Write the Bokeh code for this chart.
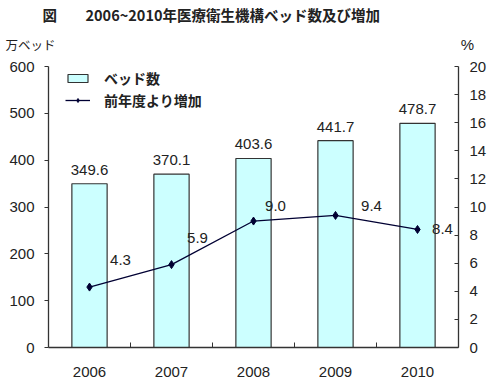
from bokeh.plotting import figure
from bokeh.layouts import column, row
from bokeh.models import Range1d, LinearAxis, FixedTicker, Legend, LegendItem, ColumnDataSource
from bokeh.embed import file_html
from bokeh.resources import INLINE
from bokeh.core.properties import value

# ---- data ----
years = ["2006", "2007", "2008", "2009", "2010"]
beds = [349.6, 370.1, 403.6, 441.7, 478.7]          # 万ベッド
growth = [4.3, 5.9, 9.0, 9.4, 8.4]                  # %
left_ticks = [0, 100, 200, 300, 400, 500, 600]
right_ticks = [0, 2, 4, 6, 8, 10, 12, 14, 16, 18, 20]
title_mark = "図"
title_text = "2006~2010年医療衛生機構ベッド数及び増加"
left_unit = "万ベッド"
right_unit = "%"

# ---- label placement (style) ----
growth_dx = [31, 26, 22, 36, 25]
growth_dy = [-27, -27, -15, -9, 0]

xi = list(range(len(years)))
src = ColumnDataSource(dict(
    x=xi, beds=beds, growth=growth,
    bl=[f"{v:.1f}" for v in beds],
    gl=[f"{v:.1f}" for v in growth],
    dx=growth_dx, dy=growth_dy,
))

FONT = "Liberation Sans"
JP = "Noto Sans CJK JP"
TXT = "#222222"
AX = "#333333"

# ---------- header strip (title and unit captions) ----------
TOP_H = 56
hdr = figure(width=500, height=TOP_H, x_range=Range1d(0, 500), y_range=Range1d(TOP_H, 0),
             output_backend="svg", toolbar_location=None,
             x_axis_location=None, y_axis_location=None,
             min_border=0, min_border_left=0, min_border_right=0, min_border_top=0, min_border_bottom=0)
hdr.grid.visible = False
hdr.outline_line_color = None
hdr.text(x=[42], y=[14], text=[title_mark], text_font=value(JP), text_font_size="14.5px",
         text_font_style="bold", text_color=TXT, text_baseline="middle")
hdr.text(x=[85], y=[14], text=[title_text], text_font=value(JP), text_font_size="14.5px",
         text_font_style="bold", text_color=TXT, text_baseline="middle")
hdr.text(x=[5], y=[44], text=[left_unit], text_font=value(JP), text_font_size="12.5px",
         text_color=TXT, text_baseline="middle")
hdr.text(x=[467], y=[44], text=[right_unit], text_font=value(FONT), text_font_size="15px",
         text_color=TXT, text_baseline="middle", text_align="center")

# ---------- main chart ----------
p = figure(width=500, height=381 - TOP_H, x_range=Range1d(-0.5, 4.5), y_range=Range1d(0, 600),
           output_backend="svg", toolbar_location=None,
           min_border_left=48, min_border_right=42, min_border_top=10, min_border_bottom=34)
p.outline_line_color = None
p.grid.visible = False

p.extra_y_ranges = {"pct": Range1d(0, 20)}

# x axis
xa = p.xaxis[0]
xa.ticker = FixedTicker(ticks=xi, minor_ticks=[i + 0.5 for i in xi[:-1]])
xa.major_label_overrides = {i: y for i, y in zip(xi, years)}
xa.major_tick_line_color = None
xa.minor_tick_in = 5
xa.minor_tick_out = 0
xa.minor_tick_line_color = AX
xa.axis_line_color = AX
xa.axis_line_width = 1.3
xa.major_label_standoff = 13
xa.major_label_text_font = FONT
xa.major_label_text_font_size = "15px"
xa.major_label_text_color = TXT

# left y axis
ya = p.yaxis[0]
ya.ticker = FixedTicker(ticks=left_ticks)
ya.minor_tick_line_color = None
ya.major_tick_in = 0
ya.major_tick_out = 4
ya.major_tick_line_color = AX
ya.axis_line_color = AX
ya.axis_line_width = 1.3
ya.major_label_standoff = 10
ya.major_label_text_font = FONT
ya.major_label_text_font_size = "15px"
ya.major_label_text_color = TXT

# right y axis
ra = LinearAxis(y_range_name="pct", ticker=FixedTicker(ticks=right_ticks))
ra.minor_tick_line_color = None
ra.major_tick_in = 4
ra.major_tick_out = 0
ra.major_tick_line_color = AX
ra.axis_line_color = AX
ra.axis_line_width = 1.3
ra.major_label_standoff = 11
ra.major_label_text_font = FONT
ra.major_label_text_font_size = "15px"
ra.major_label_text_color = TXT
p.add_layout(ra, "right")

# bars
bars = p.vbar(x="x", top="beds", width=0.43, source=src,
              fill_color="#ccffff", line_color=AX, line_width=1.2)
p.text(x="x", y="beds", text="bl", source=src, text_align="center", text_baseline="middle",
       y_offset=-14, text_font=value(FONT), text_font_size="15px", text_color=TXT)

# growth line
ln = p.line(x="x", y="growth", source=src, y_range_name="pct", line_color="#000033", line_width=1.3)
mk = p.scatter(x="x", y="growth", source=src, y_range_name="pct", marker="diamond", size=8,
               fill_color="#000033", line_color="#000033")
p.text(x="x", y="growth", text="gl", source=src, y_range_name="pct", x_offset="dx", y_offset="dy",
       text_align="center", text_baseline="middle",
       text_font=value(FONT), text_font_size="15px", text_color=TXT)

# legend
leg = Legend(items=[LegendItem(label="ベッド数", renderers=[bars]),
                    LegendItem(label="前年度より増加", renderers=[ln, mk])],
             location=(17, 237), orientation="vertical")
leg.border_line_color = None
leg.background_fill_alpha = 0
leg.padding = 0
leg.margin = 0
leg.spacing = 2
leg.glyph_width = 25
leg.glyph_height = 10
leg.label_standoff = 14
leg.label_text_font = JP
leg.label_text_font_style = "bold"
leg.label_text_font_size = "14px"
leg.label_text_color = TXT
p.add_layout(leg, "center")

layout = column(row(hdr), row(p), spacing=0)
open("out.html", "w").write(file_html(layout, INLINE))
